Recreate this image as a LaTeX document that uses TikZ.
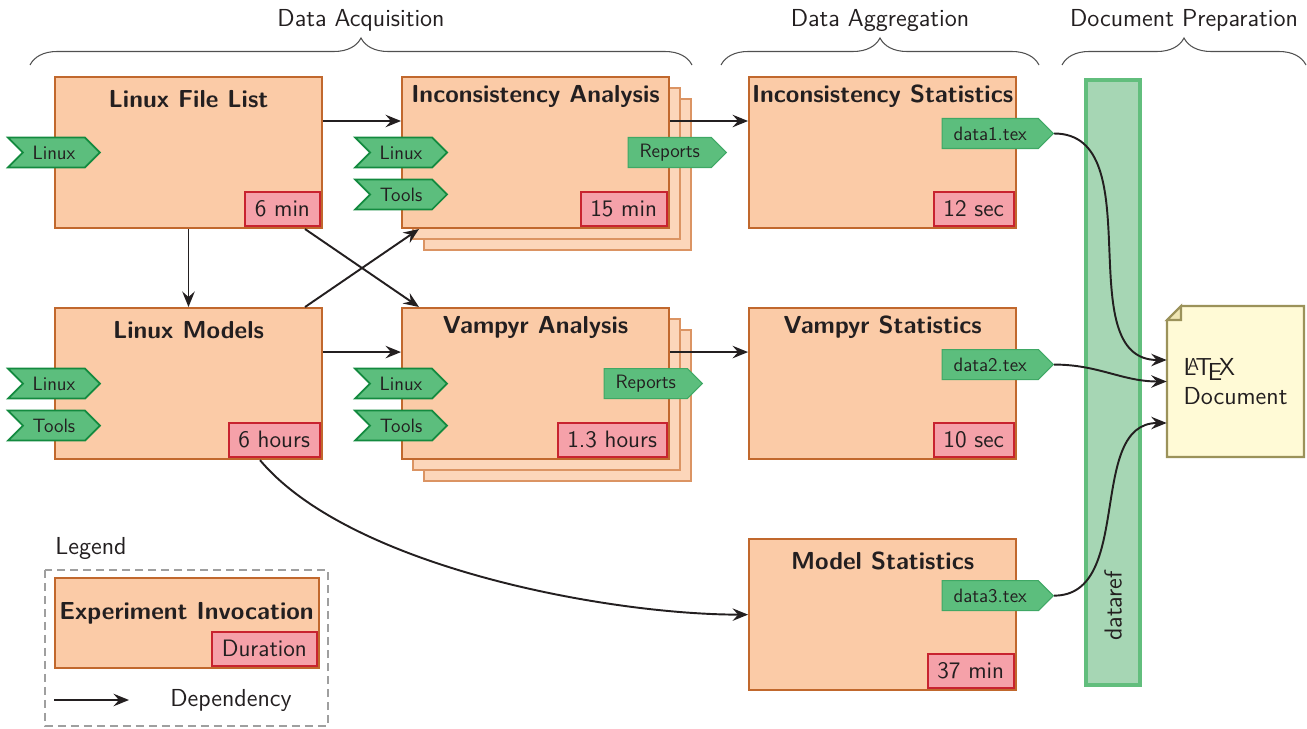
\documentclass[tikz,border=0pt]{standalone}
\usepackage{fontspec}
\renewcommand{\familydefault}{\sfdefault}
\usetikzlibrary{positioning,shapes.symbols,shadows,decorations.pathreplacing,arrows.meta}

\definecolor{ink}{HTML}{231F20}
\definecolor{boxfill}{HTML}{FBCBA7}
\definecolor{boxborder}{HTML}{C1682D}
\definecolor{shadefill}{HTML}{FCD6BA}
\definecolor{shadeborder}{HTML}{DB9463}
\definecolor{durfill}{HTML}{F5A1A9}
\definecolor{durborder}{HTML}{C8232F}
\definecolor{tagfill}{HTML}{5CBE7D}
\definecolor{tagdark}{HTML}{138A3F}
\definecolor{taglight}{HTML}{3FA865}
\definecolor{barfill}{HTML}{A6D6B4}
\definecolor{barborder}{HTML}{62BE7D}
\definecolor{docfill}{HTML}{FFFAD6}
\definecolor{docfold}{HTML}{EFE6B4}
\definecolor{docborder}{HTML}{9B925A}
\definecolor{bracecol}{HTML}{505050}

\tikzset{
  box/.style={draw=boxborder, fill=boxfill, line width=1.2pt,
    minimum width=5.34cm, minimum height=3.02cm},
  titletext/.style={font=\sffamily\fontsize{14}{17}\selectfont\bfseries, text=ink, inner sep=0pt},
  experiment/.style={box, label={[titletext, anchor=south, yshift=-0.64cm]north:#1}},
  stacked/.style={
    copy shadow={shadow xshift=0.44cm, shadow yshift=-0.44cm, fill=shadefill, draw=shadeborder, line width=1.2pt},
    copy shadow={shadow xshift=0.22cm, shadow yshift=-0.22cm, fill=shadefill, draw=shadeborder, line width=1.2pt}},
  duration/.style={draw=durborder, fill=durfill, line width=1.1pt, text=ink,
    font=\sffamily\fontsize{13.5}{16}\selectfont, minimum height=0.68cm, inner xsep=5.5pt,
    anchor=south east},
  intag/.style={signal, signal from=west, signal to=east, draw=tagdark, fill=tagfill,
    line width=1pt, text=ink, font=\sffamily\fontsize{11}{13}\selectfont,
    minimum width=1.84cm, minimum height=0.6cm},
  outtag/.style={signal, signal to=east, draw=taglight, fill=tagfill, line width=0.6pt,
    text=ink, font=\sffamily\fontsize{11}{13}\selectfont, minimum height=0.6cm,
    inner xsep=0.23cm, anchor=east},
  dep/.style={draw=ink, line width=1.1pt, -{Stealth[length=3.1mm, width=2.5mm, inset=1.1mm]}},
  phase/.style={draw=bracecol, line width=0.6pt, decorate, decoration={brace, amplitude=0.54cm}},
  phasetext/.style={font=\sffamily\fontsize{14}{17}\selectfont, text=ink},
  databar/.style={draw=barborder, fill=barfill, line width=2.3pt,
    minimum width=1.08cm, minimum height=12.1cm},
  docline/.style={draw=docborder, line width=1.2pt},
  doctext/.style={minimum width=2.74cm, minimum height=3.02cm, align=left,
    font=\sffamily\fontsize{14}{16.5}\selectfont, text=ink},
  legframe/.style={draw=gray!75, line width=0.6pt, dash pattern=on 0.16cm off 0.1cm},
}

\begin{document}
\begin{tikzpicture}[x=0.02cm, y=0.02cm, node distance=1.56cm, font=\sffamily]
  \useasboundingbox (0,0) rectangle (1307,728);

  % acolade
  \draw[phase] (30,663) -- (692,663);
  \draw[phase] (721,663) -- (1039,663);
  \draw[phase] (1062,663) -- (1306,663);
  \node[phasetext, anchor=base] (acq) at (361,701) {Data Acquisition};
  \node[phasetext, anchor=base] (agg) at (880,701) {Data Aggregation};
  \node[phasetext, anchor=base] (prep) at (1184,701) {Document Preparation};

  % experimente
  \node[experiment=Linux File List] (lfl) at (188.5,575.5) {};
  \node[experiment=Inconsistency Analysis, stacked, right=of lfl] (ia) {};
  \node[experiment=Inconsistency Statistics, right=of ia] (is) {};
  \node[experiment=Linux Models, below=of lfl] (lm) {};
  \node[experiment=Vampyr Analysis, stacked, right=of lm] (va) {};
  \node[experiment=Vampyr Statistics, right=of va] (vs) {};
  \node[experiment=Model Statistics, below=of vs] (ms) {};

  % durate
  \node[duration] (lfl-dur) at ([xshift=-0.05cm, yshift=0.05cm]lfl.south east) {6 min};
  \node[duration] (ia-dur) at ([xshift=-0.05cm, yshift=0.05cm]ia.south east) {15 min};
  \node[duration] (is-dur) at ([xshift=-0.05cm, yshift=0.05cm]is.south east) {12 sec};
  \node[duration] (lm-dur) at ([xshift=-0.05cm, yshift=0.05cm]lm.south east) {6 hours};
  \node[duration] (va-dur) at ([xshift=-0.05cm, yshift=0.05cm]va.south east) {1.3 hours};
  \node[duration] (vs-dur) at ([xshift=-0.05cm, yshift=0.05cm]vs.south east) {10 sec};
  \node[duration] (ms-dur) at ([xshift=-0.05cm, yshift=0.05cm]ms.south east) {37 min};

  % intrări
  \node[intag] (lfl-linux) at (lfl.west) {Linux};
  \node[intag] (ia-linux) at (ia.west) {Linux};
  \node[intag] (ia-tools) at ([yshift=-0.84cm]ia.west) {Tools};
  \node[intag] (lm-linux) at (lm.west) {Linux};
  \node[intag] (lm-tools) at ([yshift=-0.84cm]lm.west) {Tools};
  \node[intag] (va-linux) at (va.west) {Linux};
  \node[intag] (va-tools) at ([yshift=-0.84cm]va.west) {Tools};

  % ieșiri
  \node[outtag] (ia-rep) at ([xshift=1.14cm]ia.east) {Reports};
  \node[outtag] (va-rep) at ([xshift=0.66cm]va.east) {Reports};
  \node[outtag] (is-tex) at ([xshift=0.74cm, yshift=0.38cm]is.east) {data1.tex};
  \node[outtag] (vs-tex) at ([xshift=0.74cm, yshift=0.38cm]vs.east) {data2.tex};
  \node[outtag] (ms-tex) at ([xshift=0.74cm, yshift=0.38cm]ms.east) {data3.tex};

  % dataref
  \node[databar] (bar) at (1113,345.5) {};
  \node[phasetext, rotate=90] (bartext) at (1113,122) {dataref};

  % document
  \draw[docline, fill=docfill] (1167,271) -- (1304,271) -- (1304,422) -- (1181,422) -- (1167,408) -- cycle;
  \draw[docline, fill=docfold] (1167,408) -- (1181,408) -- (1181,422) -- cycle;
  \node[doctext] (doc) at (1235.5,346.5) {\LaTeX\\Document};

  % dependențe
  \draw[dep] ([yshift=0.63cm]lfl.east) -- ([yshift=0.63cm]ia.west);
  \draw[dep] ([yshift=0.63cm]ia.east) -- ([yshift=0.63cm]is.west);
  \draw[dep] ([yshift=0.63cm]lm.east) -- ([yshift=0.63cm]va.west);
  \draw[dep] ([yshift=0.63cm]va.east) -- ([yshift=0.63cm]vs.west);
  \draw[dep] (lfl.south) -- (lm.north);
  \draw[dep] ([xshift=-0.36cm]lfl.south east) -- ([xshift=0.36cm]va.north west);
  \draw[dep] ([xshift=-0.36cm]lm.north east) -- ([xshift=0.36cm]ia.south west);
  \draw[dep] ([xshift=1.43cm]lm.south) to[out=-50, in=180, looseness=0.7] (ms.west);
  \draw[dep] (is-tex.east) to[out=0, in=180] ([yshift=0.43cm]doc.west);
  \draw[dep] (vs-tex.east) to[out=0, in=180] (doc.west);
  \draw[dep] (ms-tex.east) to[out=0, in=180] ([yshift=-0.83cm]doc.west);

  % legendă
  \node[phasetext, anchor=base west, inner sep=0pt] (legend) at (55,174) {Legend};
  \draw[legframe] (45,158) rectangle (328,2);
  \node[box, minimum width=5.28cm, minimum height=1.8cm] (legexp) at (187,105) {};
  \node[titletext, anchor=base] (legtitle) at (186.5,109) {Experiment Invocation};
  \node[duration] (legdur) at ([xshift=-0.05cm, yshift=0.05cm]legexp.south east) {Duration};
  \coordinate (legA) at (54,28);
  \coordinate (legB) at (129,28);
  \draw[dep] (legA) -- (legB);
  \node[phasetext, anchor=base] (legdep) at (231,22) {Dependency};
\end{tikzpicture}
\end{document}
